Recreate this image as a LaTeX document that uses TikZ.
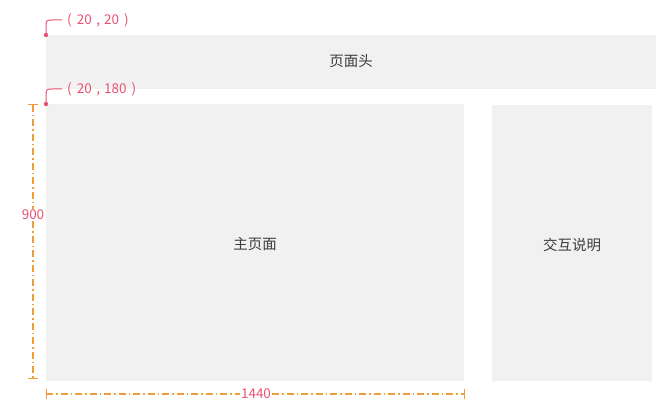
\documentclass[tikz,border=0pt]{standalone}
\usepackage{fontspec}
\setmainfont{Noto Sans CJK SC}
\usetikzlibrary{positioning}
\definecolor{boxgray}{RGB}{242,241,242}
\definecolor{dimorange}{RGB}{240,155,60}
\definecolor{markpink}{RGB}{232,82,112}
\definecolor{textgray}{RGB}{60,60,60}
\tikzset{
  dimline/.style={draw=dimorange,line width=1.2pt,dash pattern=on 7pt off 3pt on 1.5pt off 3pt},
  dimtick/.style={draw=dimorange,line width=1pt},
  hook/.style={draw=markpink,line width=1pt},
  marklabel/.style={text=markpink,font=\fontsize{13.5}{15}\selectfont,inner sep=0pt},
  boxlabel/.style={text=textgray,font=\fontsize{14.5}{16}\selectfont}
}

\begin{document}
\begin{tikzpicture}[x=1pt,y=-1pt]
\useasboundingbox (0,0) rectangle (665,406);
% Boxes
\fill[boxgray] (46,35) rectangle (656,89); % header
\fill[boxgray] (46,104) rectangle (464,381); % main page
\fill[boxgray] (492,105) rectangle (652,381); % side notes
\node[boxlabel] (head) at (351,61) {页面头};
\node[boxlabel] (main) at (255,244) {主页面};
\node[boxlabel] (side) at (572,245) {交互说明};
% Corner markers
\coordinate (c1) at (46,35);
\coordinate (c1end) at (62,20);
\fill[markpink] (c1) circle (2.2);
\draw[hook] (c1) -- (46,28) .. controls (46,20) .. (53,20) -- (c1end);
\node[marklabel,right = 5pt of c1end] (p1) {(\hspace{2pt} 20\hspace{1.5pt} ,\hspace{1pt} 20\hspace{2pt} )};
\coordinate (c2) at (46,104);
\coordinate (c2end) at (62,89);
\fill[markpink] (c2) circle (2.2);
\draw[hook] (c2) -- (46,97) .. controls (46,89) .. (53,89) -- (c2end);
\node[marklabel,right = 5pt of c2end] (p2) {(\hspace{2pt} 20\hspace{1.5pt} ,\hspace{1pt} 180\hspace{2pt} )};
% Height
\coordinate (h1) at (33,105);
\coordinate (h2) at (33,379);
\node[marklabel,fill=white,inner sep=1pt] (hgt) at (33,215) {900};
\draw[dimline] (h1) -- (hgt);
\draw[dimline] (hgt) -- (h2);
\draw[dimtick] (28,105) -- (38,105); % top tick
\draw[dimtick] (28,379) -- (38,379); % bottom tick
% Width
\coordinate (w1) at (46,394);
\coordinate (w2) at (464,394);
\node[marklabel,fill=white,inner sep=1pt] (wid) at (256,394) {1440};
\draw[dimline] (w1) -- (wid);
\draw[dimline] (wid) -- (w2);
\draw[dimtick] (46,389) -- (46,399); % left tick
\draw[dimtick] (464,389) -- (464,399); % right tick
\end{tikzpicture}
\end{document}
